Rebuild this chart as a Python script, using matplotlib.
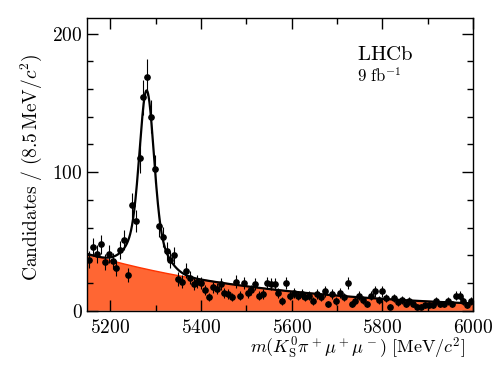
import numpy as np
import matplotlib
matplotlib.use("Agg")
import matplotlib.pyplot as plt
from matplotlib.ticker import MultipleLocator

plt.rcParams['font.family'] = 'serif'
plt.rcParams['font.serif'] = ['cmr10', 'DejaVu Serif']
plt.rcParams['mathtext.fontset'] = 'cm'
plt.rcParams['axes.formatter.use_mathtext'] = True
plt.rcParams['axes.unicode_minus'] = False

# ---- data ----
m_low, m_high = 5150.0, 6000.0
bin_width = 8.5
counts = [37, 46, 41, 48, 35, 41, 36, 31, 44, 51,
          26, 76, 65, 110, 154, 169, 140, 102, 61, 53,
          43, 37, 40, 23, 21, 29, 24, 19, 21, 20,
          15, 10, 17, 16, 19, 13, 12, 10, 21, 11,
          20, 13, 15, 19, 11, 12, 20, 19, 19, 13,
          7, 20, 11, 13, 11, 12, 10, 11, 7, 12,
          10, 14, 5, 12, 7, 13, 10, 20, 5, 7,
          11, 8, 5, 11, 14, 8, 14, 9, 3, 9,
          6, 8, 5, 7, 5, 3, 3, 4, 4, 4,
          7, 5, 5, 7, 5, 11, 11, 7, 4, 7]

# fit model parameters (per bin)
bkg_amp = 41.0        # background at 5150
bkg_slope = 0.0024    # exponential slope per MeV
sig_mean = 5280.5
sig_core_amp = 99.0
sig_core_sigma = 15.0
sig_wide_amp = 30.0
sig_wide_sigma = 35.0

x_ticks_major = [5200, 5400, 5600, 5800, 6000]

# ---- derived ----
counts = np.array(counts, dtype=float)
centers = m_low + bin_width * (np.arange(len(counts)) + 0.5)
errs = np.sqrt(counts)

mm = np.linspace(m_low, m_high, 2000)
bkg = bkg_amp * np.exp(-bkg_slope * (mm - m_low))
sig = (sig_core_amp * np.exp(-0.5 * ((mm - sig_mean) / sig_core_sigma) ** 2)
       + sig_wide_amp * np.exp(-0.5 * ((mm - sig_mean) / sig_wide_sigma) ** 2))
total = bkg + sig

fig = plt.figure(figsize=(4.98, 3.74), dpi=100)
ax = fig.add_axes([0.1757, 0.169, 0.7743, 0.782])

ax.fill_between(mm, 0, bkg, facecolor='#ff6633', edgecolor='none', zorder=1)
ax.plot(mm, bkg, color='#ff3300', lw=1.0, zorder=2)
ax.plot(mm, total, color='black', lw=1.6, zorder=3)
ax.errorbar(centers, counts, yerr=errs, xerr=bin_width / 2, fmt='o', color='black',
            ms=3.8, elinewidth=0.8, capsize=0, zorder=4)

ax.set_xlim(m_low, m_high)
ax.set_ylim(0, 211)
ax.xaxis.set_major_locator(MultipleLocator(200))
ax.xaxis.set_minor_locator(MultipleLocator(100))
ax.yaxis.set_major_locator(MultipleLocator(100))
ax.yaxis.set_minor_locator(MultipleLocator(20))
ax.set_xticks(x_ticks_major)
ax.tick_params(which='both', direction='in', top=True, right=True, labelsize=14)
ax.tick_params(which='major', length=8, width=1)
ax.tick_params(which='minor', length=4.5, width=1)
for s in ax.spines.values():
    s.set_linewidth(1.0)
ax.tick_params(axis='x', pad=6)

ax.set_ylabel(r'$\mathrm{Candidates}\ /\ (8.5\,\mathrm{MeV}/c^2)$', fontsize=14)
ax.yaxis.set_label_coords(-0.113, 0.49)
ax.set_xlabel(r'$m(K^0_\mathrm{S}\pi^+\mu^+\mu^-)\ [\mathrm{MeV}/c^2]$', fontsize=13, ha='right')
ax.xaxis.set_label_coords(0.98, -0.085)

ax.text(0.70, 0.875, r'$\mathrm{LHCb}$', transform=ax.transAxes, fontsize=15, va='center', ha='left')
ax.text(0.70, 0.805, r'$9\ \mathrm{fb}^{-1}$', transform=ax.transAxes, fontsize=12, va='center', ha='left')

fig.savefig('out.png', dpi=100)
